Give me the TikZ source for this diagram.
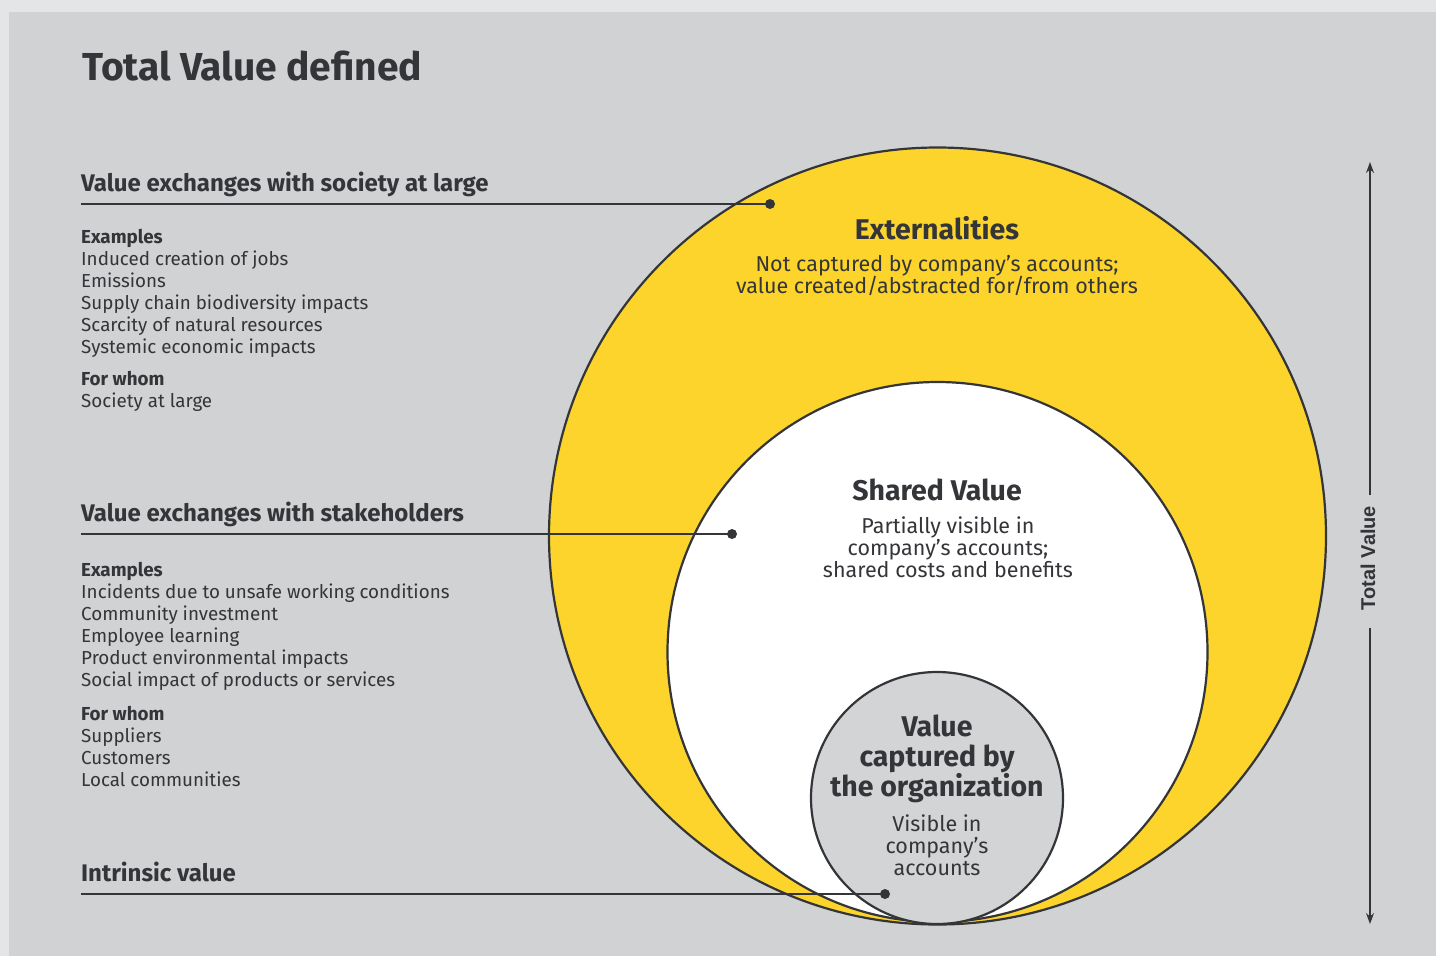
\documentclass[tikz,border=0pt]{standalone}
\usepackage{fontspec}
\setmainfont{Fira Sans}
\newfontfamily\arialfont{Liberation Sans}
\usetikzlibrary{arrows.meta}
\definecolor{outerbg}{HTML}{E4E5E7}
\definecolor{panel}{HTML}{D1D2D4}
\definecolor{eyyellow}{HTML}{FCD42C}
\definecolor{ink}{HTML}{333538}
\definecolor{innerfill}{HTML}{D3D4D5}
\tikzset{
  ring/.style={circle, draw=ink, line width=2.2pt, inner sep=0pt},
  leader/.style={draw=ink, line width=1.4pt},
  dotnode/.style={circle, fill=ink, inner sep=0pt, minimum size=10pt},
  heading/.style={anchor=base west, inner sep=0pt, text=ink, font=\fontsize{24}{28}\selectfont\bfseries},
  body/.style={anchor=north west, inner sep=0pt, text=ink, align=left, font=\fontsize{18.8}{22}\selectfont},
  ctitle/.style={anchor=base, inner sep=0pt, text=ink, align=center, font=\fontsize{28.5}{30}\selectfont\bfseries},
  ctext/.style={anchor=north, inner sep=0pt, text=ink, align=center, font=\fontsize{21.5}{22}\selectfont},
  tip/.style={-{Stealth[length=11pt,width=8pt]}},
}
\begin{document}
\begin{tikzpicture}[x=1pt,y=-1pt]
\useasboundingbox (0,0) rectangle (1436,956);
\fill[outerbg] (0,0) rectangle (1436,956);
\fill[panel] (9,12) rectangle (1436,956);

% title
\node[anchor=base west, inner sep=0pt, text=ink, font=\fontsize{39}{42}\selectfont\bfseries] (title) at (82,80) {Total Value defined};

% circles
\node[ring, fill=eyyellow, minimum size=777pt] (outer) at (937.5,536) {};
\node[ring, fill=white, minimum size=540pt] (middle) at (937.5,652) {};
\node[ring, fill=innerfill, minimum size=252pt] (inner) at (937,798) {};

% circle texts
\node[ctitle] (ext) at (937,239) {Externalities};
\node[ctext] (exttxt) at (937,255) {Not captured by company’s accounts;\\value created/abstracted for/from others};
\node[ctitle] (shv) at (937,500) {Shared Value};
\node[ctext] (shvtxt) at (948,517) {Partially visible in\\company’s accounts;\\shared costs and benefits};
\node[ctitle, anchor=north] (vco) at (937,714.5) {Value\\captured by\\the organization};
\node[ctext] (vcotxt) at (937,815) {Visible in\\company’s\\accounts};

% left headings and leaders
\node[heading] (h1) at (81,191) {Value exchanges with society at large};
\coordinate (l1) at (81,204);
\node[dotnode] (d1) at (770,204) {};
\draw[leader] (l1) -- (d1.center);

\node[heading] (h2) at (81,521) {Value exchanges with stakeholders};
\coordinate (l2) at (81,534);
\node[dotnode] (d2) at (732,534) {};
\draw[leader] (l2) -- (d2.center);

\node[heading] (h3) at (81,881) {Intrinsic value};
\coordinate (l3) at (81,894);
\node[dotnode] (d3) at (885,894) {};
\draw[leader] (l3) -- (d3.center);

% left bodies
\node[body] (b1) at (81,229) {\textbf{Examples}\\Induced creation of jobs\\Emissions\\Supply chain biodiversity impacts\\Scarcity of natural resources\\Systemic economic impacts};
\node[body] (b1w) at (81,371) {\textbf{For whom}\\Society at large};
\node[body] (b2) at (81,562) {\textbf{Examples}\\Incidents due to unsafe working conditions\\Community investment\\Employee learning\\Product environmental impacts\\Social impact of products or services};
\node[body] (b2w) at (81,706) {\textbf{For whom}\\Suppliers\\Customers\\Local communities};

% total value arrow
\node[rotate=90, inner sep=0pt, text=ink, font=\arialfont\fontsize{20}{24}\selectfont\bfseries] (tv) at (1368,558) {Total Value};
\coordinate (tvtop) at (1370,162);
\coordinate (tvbot) at (1370,924);
\coordinate (tvgapa) at (1370,495);
\coordinate (tvgapb) at (1370,628);
\draw[leader, tip] (tvgapa) -- (tvtop);
\draw[leader, tip] (tvgapb) -- (tvbot);
\end{tikzpicture}
\end{document}
